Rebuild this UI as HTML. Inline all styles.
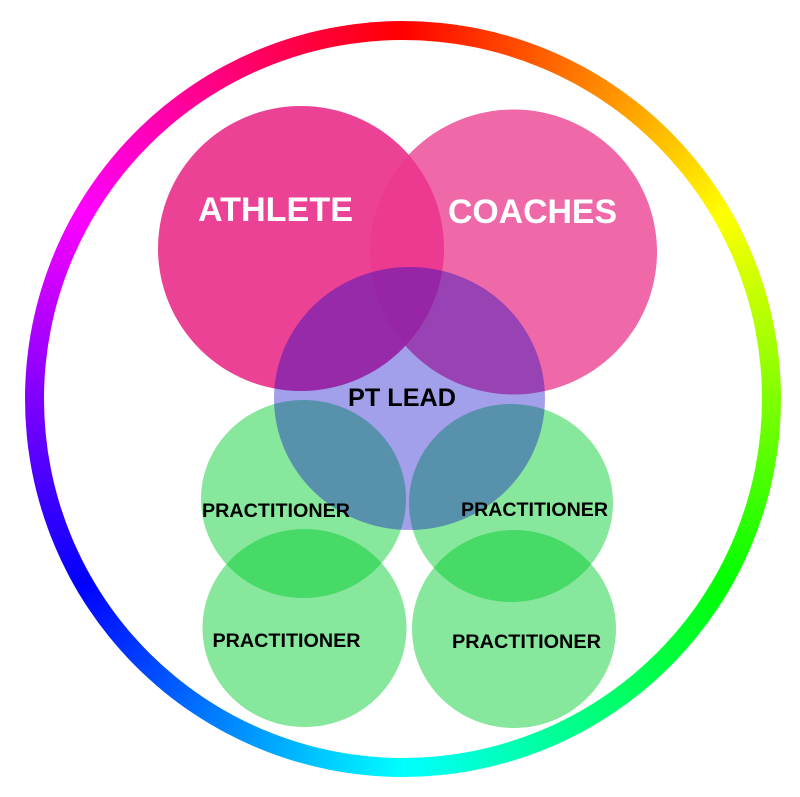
<!DOCTYPE html>
<html>
<head>
<meta charset="utf-8">
<style>
  html, body { margin:0; padding:0; background:#fff; }
  body { width:800px; height:797px; position:relative; overflow:hidden; }
  .ring { position:absolute; left:25px; top:21px; width:756px; height:756px; border-radius:50%;
    background: conic-gradient(from 0deg, #ff0000, #ffff00, #00ff00, #00ffff, #0000ff, #ff00ff, #ff0000); }
  .inner { position:absolute; left:44px; top:40px; width:718px; height:718px; border-radius:50%; background:#fff; }
  svg { position:absolute; left:0; top:0; }
  text { font-family: "Liberation Sans", Arial, sans-serif; font-weight:bold; }
</style>
</head>
<body>
<div class="ring"></div>
<div class="inner"></div>
<svg width="800" height="797" viewBox="0 0 800 797" xmlns="http://www.w3.org/2000/svg">
  <!-- practitioners -->
  <g fill="rgb(0,205,45)" fill-opacity="0.47">
    <ellipse cx="303.5" cy="499" rx="102.5" ry="99"/>
    <ellipse cx="511" cy="503" rx="102" ry="99"/>
    <ellipse cx="304.5" cy="628" rx="102" ry="99"/>
    <ellipse cx="514" cy="629" rx="102" ry="99"/>
  </g>
  <!-- coaches -->
  <ellipse cx="513.5" cy="252" rx="143.5" ry="142.5" fill="rgb(239,104,168)"/>
  <!-- athlete -->
  <ellipse cx="301" cy="248.5" rx="143" ry="142.5" fill="rgb(235,56,143)" fill-opacity="0.95"/>
  <!-- PT lead -->
  <ellipse cx="409.5" cy="398.5" rx="135.5" ry="131.5" fill="rgb(10,5,200)" fill-opacity="0.38"/>

  <text x="275.5" y="221" font-size="34" fill="#fff" text-anchor="middle" textLength="155" lengthAdjust="spacingAndGlyphs">ATHLETE</text>
  <text x="532.5" y="223" font-size="34" fill="#fff" text-anchor="middle" textLength="169" lengthAdjust="spacingAndGlyphs">COACHES</text>
  <text x="402" y="406" font-size="25" fill="#000" text-anchor="middle" textLength="108" lengthAdjust="spacingAndGlyphs">PT LEAD</text>
  <text x="276" y="517" font-size="19.5" fill="#000" text-anchor="middle" textLength="148" lengthAdjust="spacingAndGlyphs">PRACTITIONER</text>
  <text x="534.5" y="516" font-size="19.5" fill="#000" text-anchor="middle" textLength="147" lengthAdjust="spacingAndGlyphs">PRACTITIONER</text>
  <text x="286.5" y="647" font-size="19.5" fill="#000" text-anchor="middle" textLength="148" lengthAdjust="spacingAndGlyphs">PRACTITIONER</text>
  <text x="526.5" y="648" font-size="19.5" fill="#000" text-anchor="middle" textLength="149" lengthAdjust="spacingAndGlyphs">PRACTITIONER</text>
</svg>
</body>
</html>
